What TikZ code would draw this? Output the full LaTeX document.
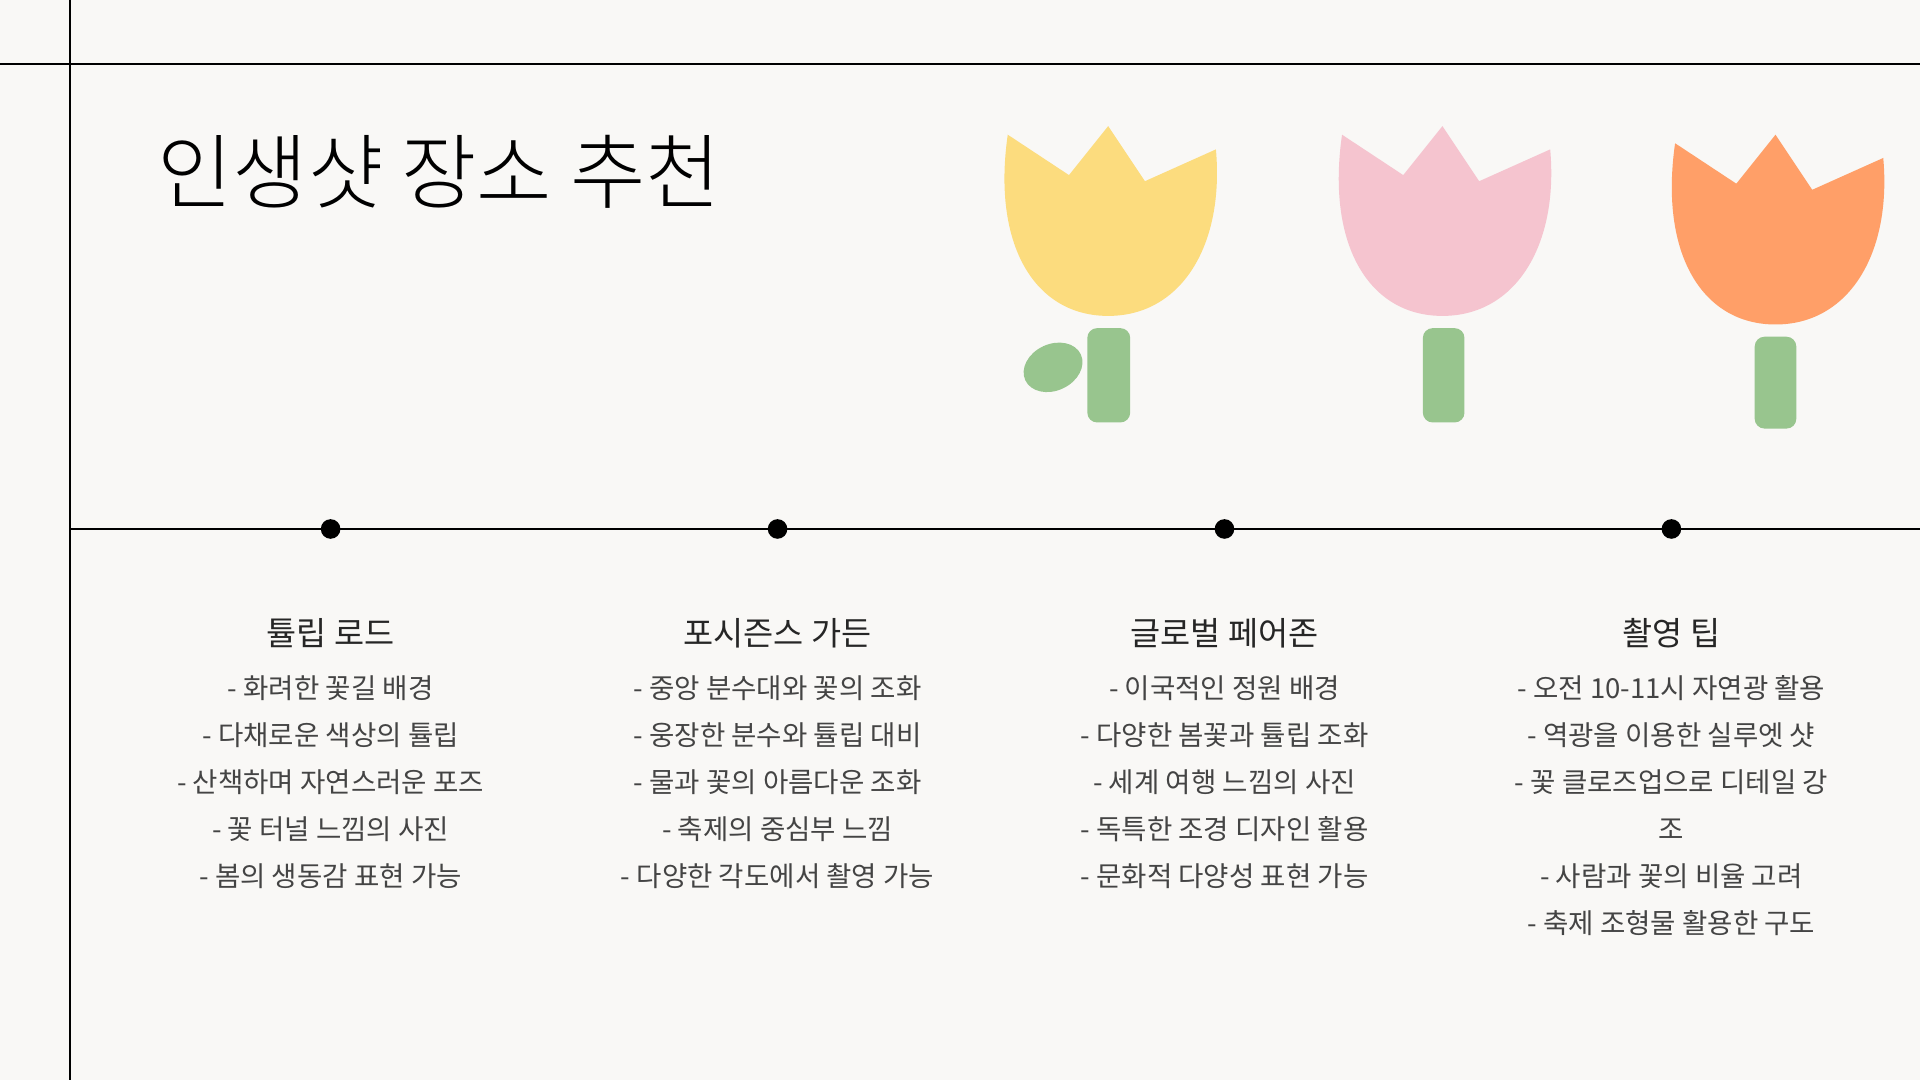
\documentclass[tikz,border=0pt]{standalone}
\usepackage{fontspec}
\setmainfont{Noto Sans CJK KR}
\newfontfamily\titlefont{Noto Sans CJK KR Light}
\usetikzlibrary{positioning}
\definecolor{bgpaper}{HTML}{F9F8F6}
\definecolor{tulipyellow}{HTML}{FCDC7E}
\definecolor{tulippink}{HTML}{F5C4CF}
\definecolor{tuliporange}{HTML}{FF9F68}
\definecolor{stemgreen}{HTML}{98C58E}
\definecolor{itemgray}{HTML}{444444}
\tikzset{
  dot/.style={circle,fill=black,inner sep=0pt,minimum size=0.16cm},
  heading/.style={font=\fontsize{7.6}{9}\selectfont,text=black!85,inner sep=0pt},
  items/.style={font=\fontsize{6.4}{10.9}\selectfont,text=itemgray,align=center,inner sep=0pt},
  stem/.style={fill=stemgreen,rounded corners=0.08cm}
}
\newcommand\bloom[2]{% #1 colour, #2 shift
  \fill[#1,shift={#2}] (-82,-70) -- (-32,-37) -- (0,-77) -- (30,-32) -- (88,-58)
    .. controls (95,20) and (60,78) .. (0,78)
    .. controls (-60,78) and (-95,20) .. (-82,-70) -- cycle;}
\begin{document}
\begin{tikzpicture}[x=0.01cm,y=-0.01cm]
\fill[bgpaper] (0,0) rectangle (1568,882);
\useasboundingbox (0,0) rectangle (1568,882);

% frame lines
\draw[black,line width=0.4pt] (57,0) -- (57,882);
\draw[black,line width=0.4pt] (0,52) -- (1568,52);

% title
\node[anchor=west,inner sep=0pt,font=\titlefont\fontsize{19}{22}\selectfont] (title) at (128,140) {인생샷 장소 추천};

% tulips
\bloom{tulipyellow}{(905,180)}
\fill[stem] (888,268) rectangle (923,345);
\fill[stemgreen,rotate around={25:(860,300)}] (860,300) ellipse [x radius=25,y radius=19];
\bloom{tulippink}{(1178,180)}
\fill[stem] (1162,268) rectangle (1196,345);
\bloom{tuliporange}{(1450,187)}
\fill[stem] (1433,275) rectangle (1467,350);

% timeline
\coordinate (tl-start) at (57,432);
\coordinate (tl-end) at (1568,432);
\draw[black,line width=0.4pt] (tl-start) -- (tl-end);
\node[dot] (d1) at (270,432) {};
\node[dot] (d2) at (635,432) {};
\node[dot] (d3) at (1000,432) {};
\node[dot] (d4) at (1365,432) {};

% columns
\node[heading] (h1) at (270,517) {튤립 로드};
\node[items,anchor=north] (l1) at (270,551) {- 화려한 꽃길 배경\\- 다채로운 색상의 튤립\\- 산책하며 자연스러운 포즈\\- 꽃 터널 느낌의 사진\\- 봄의 생동감 표현 가능};
\node[heading] (h2) at (635,517) {포시즌스 가든};
\node[items,anchor=north] (l2) at (635,551) {- 중앙 분수대와 꽃의 조화\\- 웅장한 분수와 튤립 대비\\- 물과 꽃의 아름다운 조화\\- 축제의 중심부 느낌\\- 다양한 각도에서 촬영 가능};
\node[heading] (h3) at (1000,517) {글로벌 페어존};
\node[items,anchor=north] (l3) at (1000,551) {- 이국적인 정원 배경\\- 다양한 봄꽃과 튤립 조화\\- 세계 여행 느낌의 사진\\- 독특한 조경 디자인 활용\\- 문화적 다양성 표현 가능};
\node[heading] (h4) at (1365,517) {촬영 팁};
\node[items,anchor=north] (l4) at (1365,551) {- 오전 10-11시 자연광 활용\\- 역광을 이용한 실루엣 샷\\- 꽃 클로즈업으로 디테일 강\\조\\- 사람과 꽃의 비율 고려\\- 축제 조형물 활용한 구도};
\end{tikzpicture}
\end{document}
